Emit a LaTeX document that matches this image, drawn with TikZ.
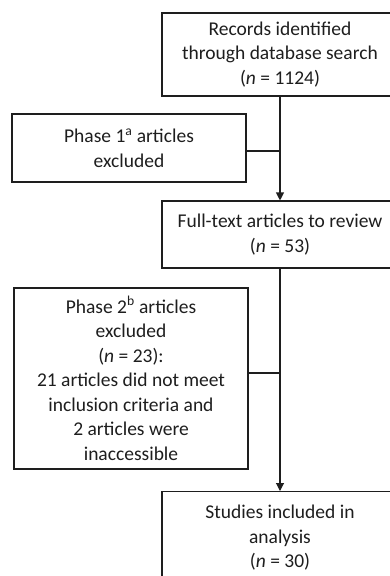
\documentclass[tikz,border=0pt]{standalone}
\usepackage{fontspec}
\setmainfont{Carlito}
\usetikzlibrary{arrows.meta}
\definecolor{ink}{HTML}{1E1E1E}
\tikzset{
  box/.style={draw=ink, line width=1.1pt, align=center, inner sep=0pt,
    font=\fontsize{19.5}{24.5}\selectfont, text=ink},
  conn/.style={draw=ink, line width=1.1pt},
  arr/.style={conn, -{Triangle[length=8pt,width=8pt]}}
}
\begin{document}
\begin{tikzpicture}[x=1pt,y=-1pt]
\useasboundingbox (0,0) rectangle (390,576);
\clip (0,0) rectangle (390,576);
\fill[white] (0,0) rectangle (390,576);
\node[box, minimum width=236pt, minimum height=83pt] (rec) at (280,54.5)
  {Records identified\\through database search\\(\textit{n} = 1124)};
\node[box, minimum width=234pt, minimum height=68pt] (ph1) at (129,148)
  {Phase 1\textsuperscript{a} articles\\excluded};
\node[box, minimum width=236pt, minimum height=67pt] (full) at (280,234.5)
  {Full-text articles to review\\(\textit{n} = 53)};
\node[box, minimum width=234pt, minimum height=181pt] (ph2) at (131,378.5)
  {Phase 2\textsuperscript{b} articles\\excluded\\(\textit{n} = 23):\\21 articles did not meet\\inclusion criteria and\\2 articles were\\inaccessible};
\node[box, minimum width=236pt, minimum height=90pt, anchor=north, text depth=0pt] (stu) at (280,491)
  {Studies included in\\analysis\\(\textit{n} = 30)};
\draw[arr] (rec.south) -- (full.north);
\draw[conn] ([yshift=-3pt]ph1.east) -- ([yshift=-3pt]ph1.east -| rec.south);
\draw[arr] (full.south) -- (stu.north);
\draw[conn] ([yshift=5.5pt]ph2.east) -- ([yshift=5.5pt]ph2.east -| full.south);
\end{tikzpicture}
\end{document}
